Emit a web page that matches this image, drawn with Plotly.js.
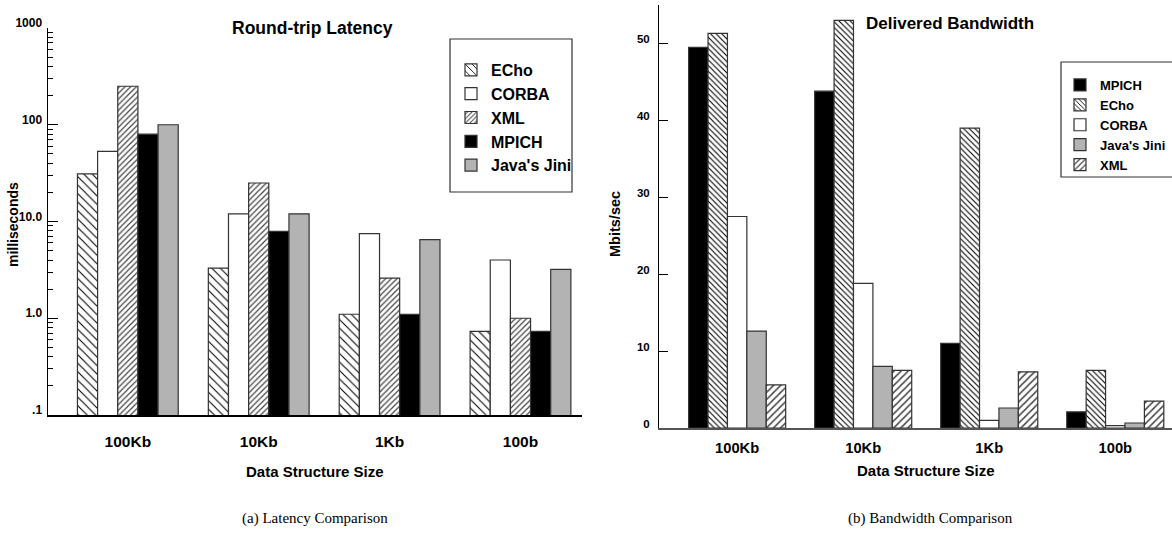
<!DOCTYPE html>
<html>
<head>
<meta charset="utf-8">
<script src="https://cdn.plot.ly/plotly-3.0.1.min.js"></script>
<style>html,body{margin:0;padding:0;background:#fff}#chart{width:1172px;height:537px}</style>
</head>
<body>
<div id="chart"></div>
<script>
// ---- data ----
const categories = ['100Kb', '10Kb', '1Kb', '100b'];

// (a) Round-trip latency, milliseconds (log scale)
const latEcho  = [31, 3.3, 1.1, 0.73];
const latCorba = [53, 12, 7.5, 4.0];
const latXml   = [250, 25, 2.6, 1.0];
const latMpich = [80, 7.9, 1.1, 0.73];
const latJini  = [100, 12, 6.5, 3.2];

// (b) Delivered bandwidth, Mbits/sec
const bwMpich = [49.5, 43.8, 11.0, 2.1];
const bwEcho  = [51.3, 53.0, 39.0, 7.5];
const bwCorba = [27.5, 18.8, 1.0, 0.3];
const bwJini  = [12.6, 8.0, 2.6, 0.65];
const bwXml   = [5.6, 7.5, 7.3, 3.5];

const latTickVals = [0.1, 1, 10, 100, 1000];
const latTickText = ['.1', '1.0', '10.0', '100', '1000'];
const bwTickVals = [0, 10, 20, 30, 40, 50];

// ---- styles ----
const SANS = 'Liberation Sans, Arial, sans-serif';
const SERIF = 'Liberation Serif, Times New Roman, serif';
const OUTLINE = {color: '#333', width: 1.2};

function styleFor(name, chart) {
  if (name === 'MPICH') return {color: '#000', line: OUTLINE};
  if (name === 'CORBA') return {color: '#fff', line: OUTLINE};
  if (name === "Java's Jini") return {color: '#b3b3b3', line: OUTLINE};
  if (name === 'ECho') return {color: '#fff', line: OUTLINE,
    pattern: {shape: '\\', size: chart === 1 ? 6 : 4, solidity: chart === 1 ? 0.18 : 0.28,
              fgcolor: '#000', bgcolor: '#fff', fillmode: 'replace'}};
  if (name === 'XML') return {color: '#fff', line: OUTLINE,
    pattern: {shape: '/', size: chart === 1 ? 4 : 5, solidity: 0.3,
              fgcolor: '#444', bgcolor: '#fff', fillmode: 'replace'}};
}

function bar(name, vals, chart) {
  return {
    type: 'bar', name: name, x: categories, y: vals,
    xaxis: chart === 1 ? 'x' : 'x2', yaxis: chart === 1 ? 'y' : 'y2',
    legend: chart === 1 ? 'legend' : 'legend2',
    marker: styleFor(name, chart), hoverinfo: 'x+y+name'
  };
}

const traces = [
  bar('ECho', latEcho, 1),
  bar('CORBA', latCorba, 1),
  bar('XML', latXml, 1),
  bar('MPICH', latMpich, 1),
  bar("Java's Jini", latJini, 1),
  bar('MPICH', bwMpich, 2),
  bar('ECho', bwEcho, 2),
  bar('CORBA', bwCorba, 2),
  bar("Java's Jini", bwJini, 2),
  bar('XML', bwXml, 2)
];

const minorLat = [];
for (let e = -1; e < 3; e++) for (let d = 2; d <= 9; d++) minorLat.push(d * Math.pow(10, e));

const W = 1172, H = 537;
const px = v => v / W;
const py = v => (H - v) / H;

const tickFontBig = {family: SANS, size: 15.5, color: '#000', weight: 700};
const layout = {
  width: W, height: H,
  margin: {l: 0, r: 0, t: 0, b: 0, autoexpand: false},
  paper_bgcolor: '#fff', plot_bgcolor: 'rgba(0,0,0,0)',
  barmode: 'group', bargap: 0.23, bargroupgap: 0,
  showlegend: true,
  xaxis: {
    domain: [px(48), px(582)], range: [-0.61, 3.47], type: 'category',
    showline: true, linecolor: '#000', linewidth: 1.5, ticks: '', showgrid: false,
    tickfont: tickFontBig, ticklabelstandoff: 12, anchor: 'y', fixedrange: true
  },
  yaxis: {
    domain: [py(415), py(28)], type: 'log', range: [-1, 3],
    showline: true, linecolor: '#000', linewidth: 1.5, showgrid: false, zeroline: false,
    tickmode: 'array', tickvals: latTickVals, ticktext: latTickText,
    ticks: 'inside', ticklen: 10, tickwidth: 1, tickcolor: '#000',
    minor: {tickvals: minorLat, ticks: 'inside', ticklen: 5, tickwidth: 1, tickcolor: '#000', showgrid: false},
    tickfont: {family: SANS, size: 12, color: '#000', weight: 700},
    ticklabelstandoff: 2, ticklabelshift: -5, anchor: 'x', fixedrange: true
  },
  xaxis2: {
    domain: [px(659), 1], range: [-0.62, 3.45], type: 'category',
    showline: true, linecolor: '#555', linewidth: 2, ticks: '', showgrid: false,
    tickfont: {family: SANS, size: 14.7, color: '#000', weight: 700},
    ticklabelstandoff: 5, anchor: 'y2', fixedrange: true
  },
  yaxis2: {
    domain: [py(428), py(5)], range: [0, 55],
    showline: true, linecolor: '#000', linewidth: 1, showgrid: false, zeroline: false,
    tickmode: 'array', tickvals: bwTickVals,
    ticks: 'inside', ticklen: 9, tickwidth: 1, tickcolor: '#000',
    tickfont: {family: SANS, size: 11.5, color: '#000', weight: 700},
    ticklabelstandoff: 6, ticklabelshift: -4, anchor: 'x2', fixedrange: true
  },
  legend: {
    x: px(451), y: py(53), xanchor: 'left', yanchor: 'top',
    bgcolor: 'rgba(0,0,0,0)', borderwidth: 0, traceorder: 'normal',
    font: {family: SANS, size: 16, color: '#000', weight: 700}
  },
  legend2: {
    x: px(1060), y: py(70), xanchor: 'left', yanchor: 'top',
    bgcolor: 'rgba(0,0,0,0)', borderwidth: 0, traceorder: 'normal',
    font: {family: SANS, size: 13, color: '#000', weight: 700}
  },
  shapes: [
    {type: 'rect', xref: 'paper', yref: 'paper', x0: px(450), x1: px(572), y0: py(192), y1: py(39),
     line: {color: '#333', width: 1.2}, fillcolor: 'rgba(0,0,0,0)'},
    {type: 'rect', xref: 'paper', yref: 'paper', x0: px(1061), x1: px(1185), y0: py(177), y1: py(62),
     line: {color: '#333', width: 1.2}, fillcolor: 'rgba(0,0,0,0)'}
  ],
  annotations: [
    {text: 'Round-trip Latency', x: px(312), y: py(28), xref: 'paper', yref: 'paper',
     showarrow: false, xanchor: 'center', yanchor: 'middle',
     font: {family: SANS, size: 17.5, color: '#000', weight: 700}},
    {text: 'Delivered Bandwidth', x: px(950), y: py(23), xref: 'paper', yref: 'paper',
     showarrow: false, xanchor: 'center', yanchor: 'middle',
     font: {family: SANS, size: 17, color: '#000', weight: 700}},
    {text: 'milliseconds', x: px(13), y: py(225), xref: 'paper', yref: 'paper', textangle: -90,
     showarrow: false, xanchor: 'center', yanchor: 'middle',
     font: {family: SANS, size: 14, color: '#000', weight: 700}},
    {text: 'Mbits/sec', x: px(615), y: py(224), xref: 'paper', yref: 'paper', textangle: -90,
     showarrow: false, xanchor: 'center', yanchor: 'middle',
     font: {family: SANS, size: 14.5, color: '#000', weight: 700}},
    {text: 'Data Structure Size', x: px(315), y: py(471), xref: 'paper', yref: 'paper',
     showarrow: false, xanchor: 'center', yanchor: 'middle',
     font: {family: SANS, size: 15, color: '#000', weight: 700}},
    {text: 'Data Structure Size', x: px(926), y: py(470), xref: 'paper', yref: 'paper',
     showarrow: false, xanchor: 'center', yanchor: 'middle',
     font: {family: SANS, size: 15, color: '#000', weight: 700}},
    {text: '(a) Latency Comparison', x: px(315), y: py(518), xref: 'paper', yref: 'paper',
     showarrow: false, xanchor: 'center', yanchor: 'middle',
     font: {family: SERIF, size: 15, color: '#000'}},
    {text: '(b) Bandwidth Comparison', x: px(930), y: py(518), xref: 'paper', yref: 'paper',
     showarrow: false, xanchor: 'center', yanchor: 'middle',
     font: {family: SERIF, size: 15, color: '#000'}}
  ]
};

Plotly.newPlot('chart', traces, layout, {displayModeBar: false, staticPlot: true});
</script>
</body>
</html>
